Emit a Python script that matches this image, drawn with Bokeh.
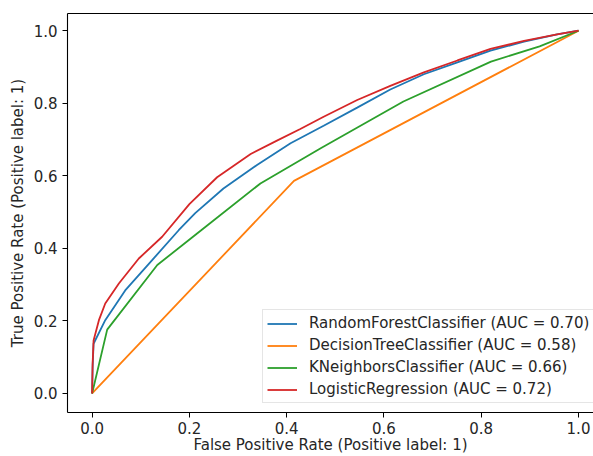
from bokeh.plotting import figure
from bokeh.models import (Range1d, FixedTicker, PrintfTickFormatter, Legend, LegendItem, LinearAxis)
from bokeh.embed import file_html
from bokeh.resources import INLINE

# ---- data ----
rf_fpr = [0, 0.001, 0.003, 0.027, 0.068, 0.123, 0.178, 0.212, 0.270, 0.339, 0.408, 0.476, 0.545, 0.613, 0.682, 0.751, 0.819, 0.888, 0.956, 1.0]
rf_tpr = [0, 0.07, 0.137, 0.202, 0.284, 0.367, 0.450, 0.497, 0.565, 0.630, 0.690, 0.738, 0.788, 0.838, 0.880, 0.913, 0.945, 0.970, 0.990, 1.0]

dt_fpr = [0, 0.415, 1.0]
dt_tpr = [0, 0.586, 1.0]

knn_fpr = [0, 0.031, 0.134, 0.210, 0.346, 0.470, 0.640, 0.820, 0.920, 1.0]
knn_tpr = [0, 0.176, 0.354, 0.435, 0.579, 0.676, 0.805, 0.915, 0.957, 1.0]

lr_fpr = [0, 0.001, 0.003, 0.014, 0.027, 0.055, 0.096, 0.144, 0.200, 0.257, 0.326, 0.380, 0.428, 0.476, 0.545, 0.613, 0.682, 0.751, 0.819, 0.888, 0.956, 1.0]
lr_tpr = [0, 0.08, 0.146, 0.202, 0.248, 0.303, 0.372, 0.432, 0.522, 0.596, 0.660, 0.697, 0.729, 0.763, 0.809, 0.848, 0.885, 0.918, 0.950, 0.972, 0.990, 1.0]

labels = ["RandomForestClassifier (AUC = 0.70)",
          "DecisionTreeClassifier (AUC = 0.58)",
          "KNeighborsClassifier (AUC = 0.66)",
          "LogisticRegression (AUC = 0.72)"]
colors = ["#1f77b4", "#ff7f0e", "#2ca02c", "#d62728"]

ticks = [0.0, 0.2, 0.4, 0.6, 0.8, 1.0]
x_title = "False Positive Rate (Positive label: 1)"
y_title = "True Positive Rate (Positive label: 1)"

FONT = "DejaVu Sans"
TXT = "#262626"

p = figure(width=593, height=456, output_backend="svg", toolbar_location=None,
           x_range=Range1d(-0.0506, 1.0308), y_range=Range1d(-0.0525, 1.0475),
           min_border_left=67, min_border_right=0, min_border_top=13, min_border_bottom=44)
p.outline_line_color = None
p.xgrid.visible = False
p.ygrid.visible = False
p.background_fill_color = "white"

series = [(rf_fpr, rf_tpr), (dt_fpr, dt_tpr), (knn_fpr, knn_tpr), (lr_fpr, lr_tpr)]
renderers = []
for (xs, ys), c in zip(series, colors):
    r = p.line(xs, ys, line_color=c, line_width=1.8)
    renderers.append(r)

for ax in (p.xaxis[0], p.yaxis[0]):
    ax.ticker = FixedTicker(ticks=ticks, minor_ticks=[])
    ax.formatter = PrintfTickFormatter(format="%.1f")
    ax.major_tick_out = 5
    ax.major_tick_in = 0
    ax.minor_tick_out = 0
    ax.minor_tick_in = 0
    ax.axis_line_color = "black"
    ax.axis_line_width = 1.1
    ax.major_tick_line_color = "black"
    ax.major_label_text_font = FONT
    ax.major_label_text_font_size = "15px"
    ax.major_label_text_color = TXT
    ax.major_label_standoff = 5
    ax.axis_label_text_font = FONT
    ax.axis_label_text_font_size = "15px"
    ax.axis_label_text_font_style = "normal"
    ax.axis_label_text_color = TXT

p.xaxis[0].major_label_standoff = 4
p.xaxis[0].axis_label = x_title
p.xaxis[0].axis_label_standoff = -1
p.yaxis[0].axis_label = y_title
p.yaxis[0].axis_label_standoff = 4

top = LinearAxis(ticker=FixedTicker(ticks=[]), major_tick_out=0, major_tick_in=0,
                 minor_tick_out=0, minor_tick_in=0, major_label_text_font_size="0px",
                 axis_line_color="black", axis_line_width=1.1)
p.add_layout(top, "above")

legend = Legend(items=[LegendItem(label=l, renderers=[r]) for l, r in zip(labels, renderers)],
                location=(195, 9), orientation="vertical",
                label_text_font=FONT, label_text_font_size="15px", label_text_color=TXT,
                glyph_width=30, glyph_height=17, label_height=17, spacing=4,
                label_standoff=12, padding=4, margin=0,
                border_line_color="#cccccc", border_line_width=1,
                background_fill_color="white", background_fill_alpha=0.8)
p.add_layout(legend, "center")

open("out.html", "w").write(file_html(p, INLINE))
